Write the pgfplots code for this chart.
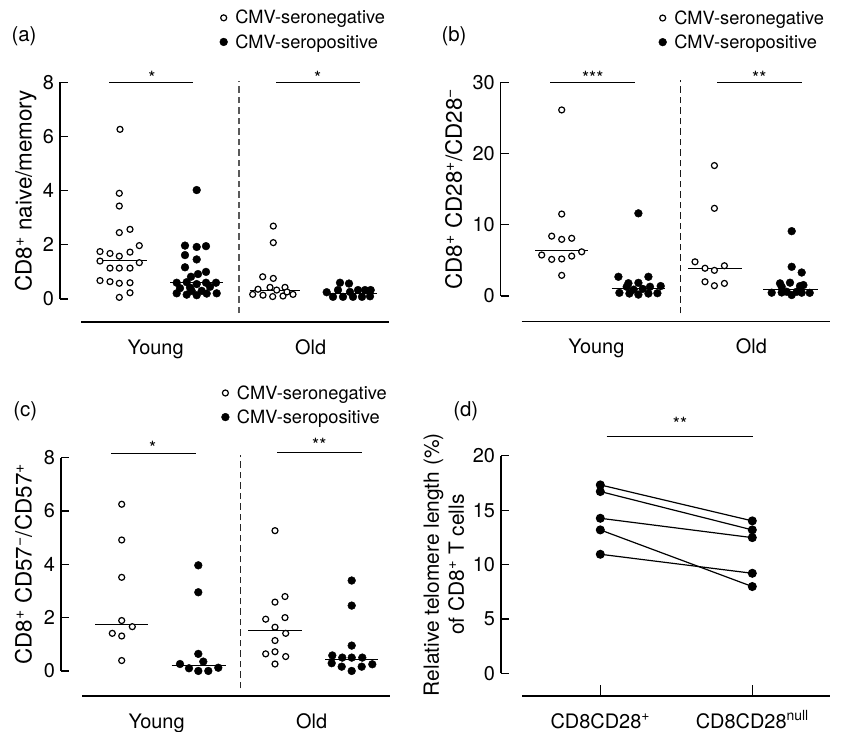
\documentclass[border=0pt]{standalone}
\usepackage{fontspec}
\setmainfont{TeX Gyre Heros}
\usepackage{pgfplots}
\pgfplotsset{compat=1.18}
\newcommand{\fs}{\fontsize{18.3}{22}\selectfont}
\newcommand{\ft}{\fontsize{20}{24}\selectfont}
\newcommand{\fl}{\fontsize{22.5}{27}\selectfont}
\newcommand{\supm}{\textsuperscript{\char"2212}}
\newcommand{\supp}{\textsuperscript{+}}
\pgfplotsset{
  panel/.style={
    x=1bp, xmin=0, xmax=330, clip=false,
    axis x line*=bottom, axis y line*=left,
    axis line style={draw=none},
    tick align=inside, major tick length=8bp,
    ytick style={black, line width=1.2bp},
    xtick style={draw=none},
    tick label style={font=\ft},
    /pgf/number format/assume math mode=true,
    yticklabel style={xshift=-2.5bp},
    xticklabel style={anchor=base, yshift=-32bp},
    label style={font=\fl},
    ylabel style={anchor=base},
    legend style={draw=none, fill=none, font=\fs, inner sep=0pt, row sep=7bp, column sep=6.5bp, nodes={inner sep=1bp}},
    legend cell align=left,
  },
  neg/.style={only marks, mark=*, mark size=3bp, mark options={draw=black, fill=white, line width=1.2bp}, forget plot},
  pos/.style={only marks, mark=*, mark size=3.9bp, mark options={draw=none, fill=black}, forget plot},
  med/.style={black, line width=1bp, no marks, forget plot},
  sig/.style={black, line width=1.1bp, no marks, forget plot},
  pair/.style={black, line width=1.2bp, mark=*, mark size=3.9bp, mark options={draw=none, fill=black}, forget plot},
  legneg/.style={legend image code/.code={\draw[black, fill=white, line width=1.2bp] (0bp,0bp) circle (3bp);}},
  legpos/.style={legend image code/.code={\fill[black] (0bp,0bp) circle (3.9bp);}},
}
\begin{document}
\begin{tikzpicture}[font=\fs]
\useasboundingbox (0,0) rectangle (842bp,-732bp);
% ---------------- (a)
\begin{axis}[panel, at={(60bp,-322bp)}, anchor=south west, y=27.1bp,
  ymin=-0.849, ymax=8, ytick={0,2,4,6,8},
  xtick={95.7,250.7}, xticklabels={Young,Old},
  ylabel={CD8\supp{} naive/memory},
  ylabel style={at={(axis description cs:-0.0858,0.548)}},
  legend style={at={(axis cs:159.4,9.93)}, anchor=west}]
\addlegendimage{legneg}\addlegendentry{CMV-seronegative}
\addlegendimage{legpos}\addlegendentry{CMV-seropositive}
\draw[line width=1.3bp] (axis cs:0,0) -- (axis cs:0,8);
\draw[line width=1.3bp] (axis cs:21,-0.849) -- (axis cs:329,-0.849);
\draw[black!65, line width=1.1bp, dash pattern=on 6.5bp off 4bp] (axis cs:179,-0.52) -- (axis cs:179,8.04);
\addplot[neg] coordinates {(60,6.26) (59.3,3.9) (59.3,3.43) (59.3,2.45) (70,2.57) (79.3,1.97) (40,1.75) (50,1.68) (59.3,1.58) (70,1.73) (40,1.40) (79.3,1.34) (50,1.14) (59.3,1.14) (70,1.14) (40,0.68) (50,0.64) (59.3,0.58) (70,0.60) (70,0.23) (59.3,0.06)};
\addplot[pos] coordinates {(136.7,4.02) (125,1.97) (136.7,1.92) (146,1.95) (125,1.62) (136.7,1.46) (125,1.17) (146,1.0) (138,0.92) (131,0.82) (116.7,0.6) (126.7,0.62) (136.7,0.55) (146,0.6) (156,0.6) (120,0.4) (130,0.42) (150,0.45) (116.7,0.21) (126.7,0.16) (136.7,0.14) (146.7,0.2) (156.7,0.21) (131.7,0.3) (141.7,0.3)};
\addplot[neg] coordinates {(213.3,2.69) (213.3,2.08) (202.7,0.82) (213.3,0.76) (192.7,0.17) (198,0.36) (203,0.14) (210,0.43) (212.7,0.09) (216.7,0.33) (223,0.11) (225,0.43) (227,0.26) (233,0.17)};
\addplot[pos] coordinates {(266.7,0.25) (273,0.08) (280,0.6) (278,0.33) (283,0.08) (289,0.57) (290,0.26) (293,0.08) (298,0.33) (302,0.08) (305,0.33) (310.7,0.33) (310,0.1)};
\addplot[med] coordinates {(36.7,1.42) (86.7,1.42)};
\addplot[med] coordinates {(110,0.6) (163,0.6)};
\addplot[med] coordinates {(190,0.3) (240,0.3)};
\addplot[med] coordinates {(265,0.2) (317,0.2)};
\addplot[sig] coordinates {(49,8) (133,8)};
\addplot[sig] coordinates {(216,8) (300,8)};
\node[anchor=base, yshift=-2.5bp] at (axis cs:92,8) {*};
\node[anchor=base, yshift=-2.5bp] at (axis cs:257.7,8) {*};
\end{axis}
% ---------------- (b)
\begin{axis}[panel, at={(500.7bp,-321.7bp)}, anchor=south west, y=7.13bp,
  ymin=-3.6, ymax=30, ytick={0,10,20,30},
  xtick={95.7,250.7}, xticklabels={Young,Old},
  ylabel={CD8\supp{} CD28\supp/CD28\supm},
  ylabel style={at={(axis description cs:-0.118,0.5536)}},
  legend style={at={(axis cs:157.7,37.3)}, anchor=west}]
\addlegendimage{legneg}\addlegendentry{CMV-seronegative}
\addlegendimage{legpos}\addlegendentry{CMV-seropositive}
\draw[line width=1.3bp] (axis cs:0,0) -- (axis cs:0,30);
\draw[line width=1.3bp] (axis cs:21,-3.6) -- (axis cs:329,-3.6);
\draw[black!90, line width=1bp, dash pattern=on 6.5bp off 4bp] (axis cs:179.3,-2.43) -- (axis cs:179.3,30.3);
\addplot[neg] coordinates {(61,26.1) (61,11.5) (51,8.4) (61,7.95) (71,8.1) (41,5.75) (51,5.14) (61,5.2) (71,5.6) (81,6.2) (61,2.9)};
\addplot[pos] coordinates {(137.7,11.6) (117.7,2.7) (147.7,2.7) (127.7,1.8) (137.7,1.85) (126,1.3) (149.3,1.3) (160,1.4) (118.7,0.45) (128.7,0.35) (137.7,0.2) (147.7,0.35) (156.7,0.4) (133,0.9) (142,1.0)};
\addplot[neg] coordinates {(213.7,18.3) (213.7,12.3) (194.3,4.8) (204.3,3.9) (213.7,3.6) (223.7,4.25) (204.3,2.0) (213.7,1.45) (223.7,1.77)};
\addplot[pos] coordinates {(291,9.1) (291,4.1) (301,3.3) (271,0.47) (281,0.5) (291,0.14) (301,0.47) (309,0.45) (279.3,1.78) (289.3,1.87) (281,1.3) (299.3,1.4) (302.7,1.54) (286,0.6) (296,0.6)};
\addplot[med] coordinates {(34.3,6.36) (87.7,6.36)};
\addplot[med] coordinates {(111,1.08) (164.3,1.08)};
\addplot[med] coordinates {(187.7,3.85) (241,3.85)};
\addplot[med] coordinates {(262.7,0.94) (317.7,0.94)};
\addplot[sig] coordinates {(49.3,30) (134.3,30)};
\addplot[sig] coordinates {(216.6,30) (301,30)};
\node[anchor=base, yshift=-2bp] at (axis cs:92,30) {***};
\node[anchor=base, yshift=-2bp] at (axis cs:258.6,30) {**};
\end{axis}
% ---------------- (c)
\begin{axis}[panel, at={(61bp,-696bp)}, anchor=south west, y=26.67bp,
  ymin=-0.94, ymax=8, ytick={0,2,4,6,8},
  xtick={95.7,250.7}, xticklabels={Young,Old},
  ylabel={CD8\supp{} CD57\supm/CD57\supp},
  ylabel style={at={(axis description cs:-0.0888,0.5526)}},
  legend style={at={(axis cs:160.1,9.97)}, anchor=west}]
\addlegendimage{legneg}\addlegendentry{CMV-seronegative}
\addlegendimage{legpos}\addlegendentry{CMV-seropositive}
\draw[line width=1.3bp] (axis cs:0,0) -- (axis cs:0,8);
\draw[line width=1.3bp] (axis cs:21,-0.94) -- (axis cs:329,-0.94);
\draw[black!85, line width=1.1bp, dash pattern=on 6.5bp off 4bp] (axis cs:179.7,-0.65) -- (axis cs:179.7,8.1);
\addplot[neg] coordinates {(60.7,6.25) (60.7,4.91) (60.7,3.51) (60.7,1.89) (71.3,1.66) (51.3,1.41) (60.7,1.31) (60.7,0.39)};
\addplot[pos] coordinates {(137.3,3.96) (137.3,2.95) (137.3,0.64) (119,0.26) (128,0.1) (142.3,0.35) (137.3,0.0) (147.3,0.0) (157.3,0.12)};
\addplot[neg] coordinates {(214,5.26) (224,2.79) (214,2.58) (204.7,1.94) (224,2.0) (214,1.64) (224.7,1.41) (214,1.14) (204.7,0.64) (214,0.72) (224.7,0.54) (214,0.26)};
\addplot[pos] coordinates {(290.7,3.39) (290.7,2.45) (290.7,0.95) (271.3,0.58) (281.3,0.5) (290.7,0.5) (301.3,0.5) (270.7,0.29) (280.7,0.16) (290.7,0.0) (300.7,0.16) (311.3,0.25)};
\addplot[med] coordinates {(34,1.76) (86.7,1.76)};
\addplot[med] coordinates {(110.7,0.2) (164.7,0.2)};
\addplot[med] coordinates {(187.3,1.5) (240.7,1.5)};
\addplot[med] coordinates {(264,0.44) (317.3,0.44)};
\addplot[sig] coordinates {(50,8.16) (134.7,8.16)};
\addplot[sig] coordinates {(216.3,8.2) (300.7,8.2)};
\node[anchor=base, yshift=-1.5bp] at (axis cs:91.7,8.16) {*};
\node[anchor=base, yshift=1bp] at (axis cs:258.3,8.2) {**};
\end{axis}
% ---------------- (d)
\begin{axis}[panel, at={(501bp,-696bp)}, anchor=south west, y=10.87bp,
  ymin=-2.09, ymax=20, ytick={0,5,10,15,20},
  xtick={99.3,251.3}, xticklabels={CD8CD28\supp, CD8CD28\textsuperscript{null}},
  ylabel={Relative telomere length (\%)\\of CD8\supp{} T cells},
  ylabel style={align=center, anchor=center, font={\fontsize{21}{25}\selectfont}, at={(axis description cs:-0.1727,0.547)}}]
\draw[line width=1.3bp] (axis cs:0,0) -- (axis cs:0,20);
\draw[line width=1.3bp] (axis cs:21,-2.09) -- (axis cs:329,-2.09);
\draw[line width=1.2bp] (axis cs:99.3,-2.09) -- ++(0bp,11bp);
\draw[line width=1.2bp] (axis cs:251.3,-2.09) -- ++(0bp,11bp);
\addplot[pair] coordinates {(99.3,17.33) (251.3,14.02)};
\addplot[pair] coordinates {(99.3,16.72) (251.3,13.19)};
\addplot[pair] coordinates {(99.3,14.26) (251.3,12.48)};
\addplot[pair] coordinates {(99.3,13.19) (251.3,7.98)};
\addplot[pair] coordinates {(99.3,10.95) (251.3,9.2)};
\addplot[sig] coordinates {(105.7,21.8) (252.3,21.8)};
\node[anchor=base, yshift=6bp] at (axis cs:179,21.8) {**};
\end{axis}
% panel labels
\begin{scope}[font={\fontsize{20.5}{24}\selectfont}]
\node at (24bp,-36.7bp) {(a)};
\node at (454bp,-36.7bp) {(b)};
\node at (25.3bp,-411.7bp) {(c)};
\node at (465.8bp,-411.7bp) {(d)};
\end{scope}
\end{tikzpicture}
\end{document}
